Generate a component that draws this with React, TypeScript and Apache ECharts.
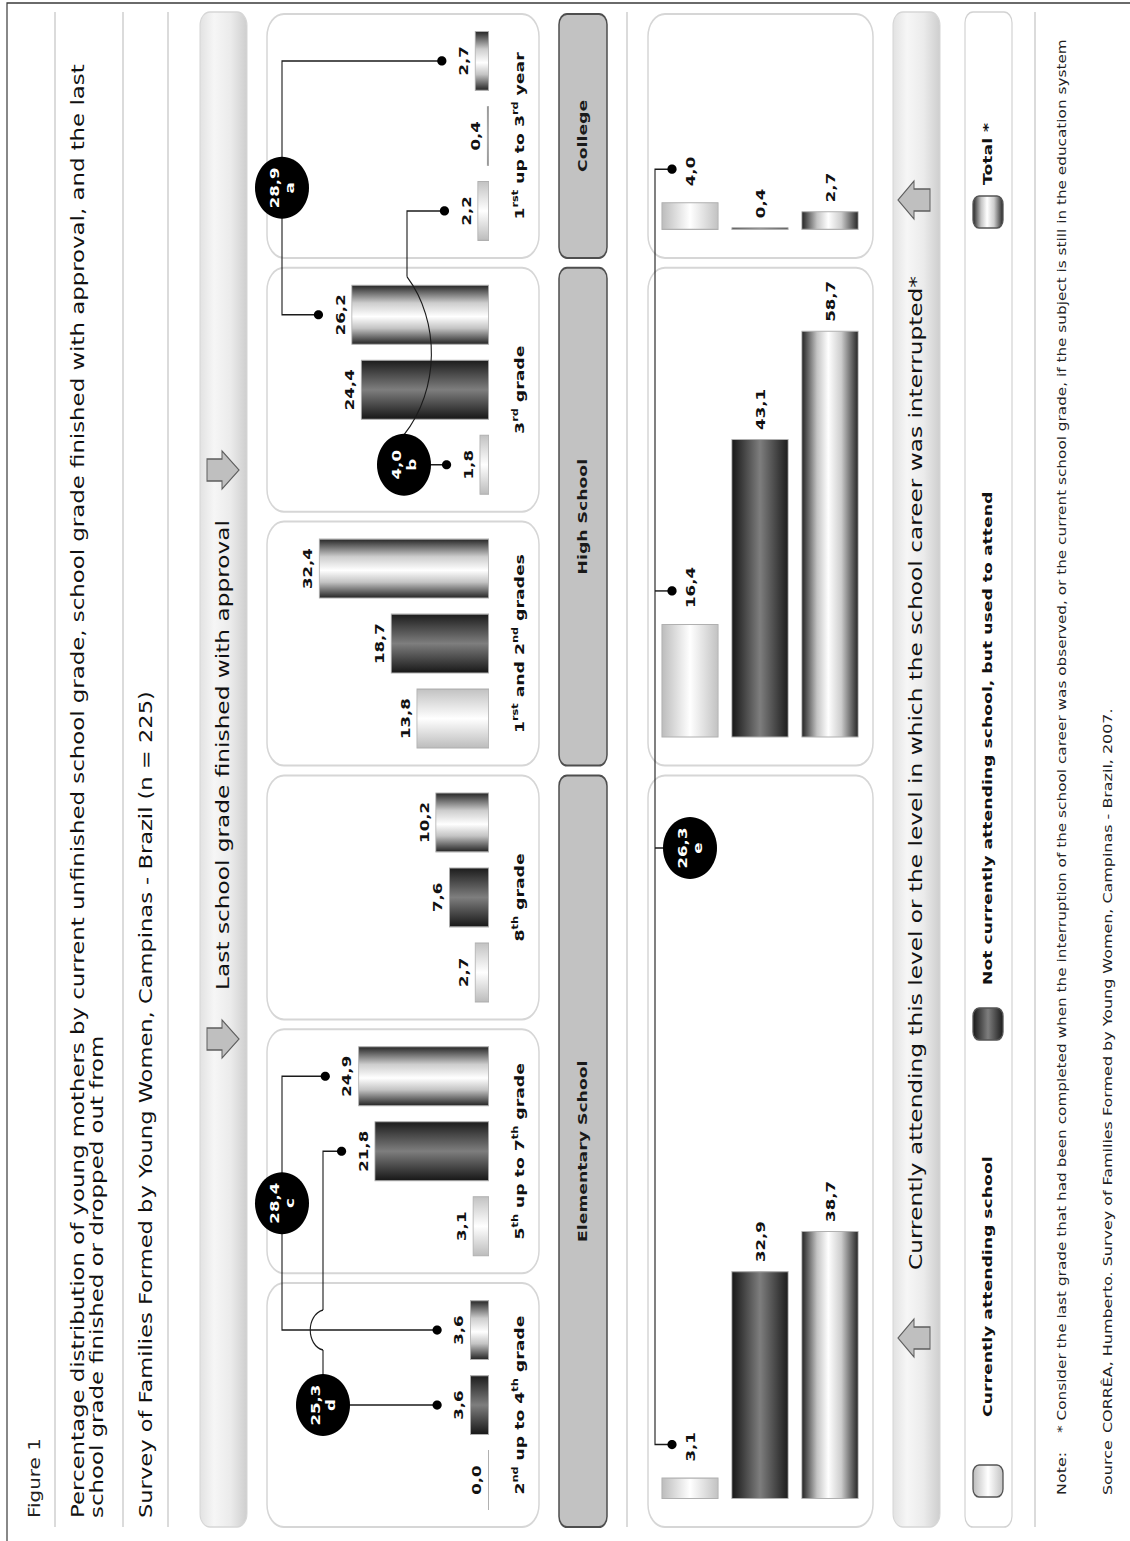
import React, { useEffect, useRef } from "react";
import * as echarts from "echarts";

// The figure is laid out in landscape and turned a quarter turn onto the portrait page.
const PAGE_W = 1130;
const PAGE_H = 1541;
const DESIGN_W = 1160; // landscape width before the horizontal stretch
const SX = PAGE_H / DESIGN_W; // horizontal stretch of the landscape layout
const X = (u: number) => u / SX; // landscape page units -> chart pixels (x only)
const FONT = "'DejaVu Sans', Verdana, sans-serif";

// ---- data -----------------------------------------------------------------
const gradeCategories = [
  "2nd up to 4th grade",
  "5th up to 7th grade",
  "8th grade",
  "1rst and 2nd grades",
  "3rd grade",
  "1rst up to 3rd year",
];
const attendingByGrade = [0.0, 3.1, 2.7, 13.8, 1.8, 2.2];
const notAttendingByGrade = [3.6, 21.8, 7.6, 18.7, 24.4, 0.4];
const totalByGrade = [3.6, 24.9, 10.2, 32.4, 26.2, 2.7];

const levelCategories = ["Elementary School", "High School", "College"];
const attendingByLevel = [3.1, 16.4, 4.0];
const notAttendingByLevel = [32.9, 43.1, 0.4];
const totalByLevel = [38.7, 58.7, 2.7];

const rowNames = [
  "Currently attending school",
  "Not currently attending school, but used to attend",
  "Total *",
];

const sumKeys = ["a", "b", "c", "d", "e"];
const sumValues = [28.9, 4.0, 28.4, 25.3, 26.3];

const levelSpans = [
  [0, 2],
  [3, 4],
  [5, 5],
];

const fmt = (v: number) => v.toFixed(1).replace(".", ",");

// ---- styling ---------------------------------------------------------------
const BAR_STOPS: [number, string][][] = [
  [
    [0, "#bcbcbc"],
    [0.5, "#ffffff"],
    [1, "#c2c2c2"],
  ],
  [
    [0, "#171717"],
    [0.5, "#7e7e7e"],
    [1, "#1c1c1c"],
  ],
  [
    [0, "#242424"],
    [0.27, "#c4c4c4"],
    [0.47, "#ffffff"],
    [0.7, "#cdcdcd"],
    [1, "#262626"],
  ],
];
const grad = (stops: [number, string][], vertical: boolean) =>
  new echarts.graphic.LinearGradient(
    0,
    0,
    vertical ? 0 : 1,
    vertical ? 1 : 0,
    stops.map(([offset, color]) => ({ offset, color }))
  );

// ---- layout (landscape page units) ------------------------------------------
const GRID_LEFT = 9;
const GRID_WIDTH = 1523;
const SLOT = GRID_WIDTH / 6;
const panelCenter = (i: number) => GRID_LEFT + SLOT * (i + 0.5);
const PANEL_HALF = 122;
const UP_TOP = 279;
const UP_BASE = 489;
const UP_MAX = 40;
const BAR_W = 60;
const BAR_STEP = 75;
const LOW_TOP = 655;
const LOW_ROW = 70;
const LOW_UNIT = 6.93;
const LOW_MAX = [60, 70, 30];
const levelLeft = (g: number) => panelCenter(levelSpans[g][0]) - PANEL_HALF;
const levelRight = (g: number) => panelCenter(levelSpans[g][1]) + PANEL_HALF;

const valueLabel = {
  show: true,
  formatter: (p: any) => fmt(p.value),
  fontFamily: FONT,
  fontWeight: "bold",
  fontSize: 12.5,
  color: "#111",
};

const supFormatter = (v: string) => v.replace(/(\d)(rst|nd|rd|th|st)/g, "$1{s|$2}");

function baseOption(): any {
  const upperSeries = [attendingByGrade, notAttendingByGrade, totalByGrade].map((vals, k) => ({
    name: rowNames[k],
    type: "bar",
    xAxisIndex: 0,
    yAxisIndex: 0,
    data: vals,
    barWidth: X(BAR_W),
    barGap: "25%",
    barMinHeight: 1,
    itemStyle: { color: grad(BAR_STOPS[k], false), borderColor: "#b0b0b0", borderWidth: 0.8 },
    label: { ...valueLabel, position: "top", distance: 5 },
    z: 3,
  }));

  const lowerSeries = levelCategories.map((level, g) => ({
    name: level,
    type: "bar",
    xAxisIndex: g + 1,
    yAxisIndex: g + 1,
    barWidth: 57,
    data: [attendingByLevel[g], notAttendingByLevel[g], totalByLevel[g]].map((value, r) => ({
      value,
      itemStyle: { color: grad(BAR_STOPS[r], true) },
      label: { distance: r === 0 ? X(16) : X(9) },
    })),
    itemStyle: { borderColor: "#b0b0b0", borderWidth: 0.8 },
    label: { ...valueLabel, position: "right" },
    z: 3,
  }));

  return {
    animation: false,
    backgroundColor: "#ffffff",
    grid: [
      {
        left: X(GRID_LEFT),
        top: UP_TOP,
        width: X(GRID_WIDTH),
        height: UP_BASE - UP_TOP,
        outerBoundsMode: "none",
      },
      ...levelCategories.map((_, g) => ({
        left: X(levelLeft(g) + 28),
        top: LOW_TOP,
        width: X(LOW_MAX[g] * LOW_UNIT),
        height: LOW_ROW * 3,
        outerBoundsMode: "none",
      })),
    ],
    xAxis: [
      {
        type: "category",
        gridIndex: 0,
        data: gradeCategories,
        axisLine: { show: false },
        axisTick: { show: false },
        splitLine: { show: false },
        axisLabel: {
          interval: 0,
          margin: 22,
          fontFamily: FONT,
          fontWeight: "bold",
          fontSize: 13,
          lineHeight: 18,
          color: "#111",
          formatter: supFormatter,
          rich: {
            s: {
              fontFamily: FONT,
              fontWeight: "bold",
              fontSize: 8.5,
              lineHeight: 10,
              verticalAlign: "top",
              color: "#111",
            },
          },
        },
      },
      ...levelCategories.map((_, g) => ({
        type: "value",
        gridIndex: g + 1,
        min: 0,
        max: LOW_MAX[g],
        show: false,
      })),
    ],
    yAxis: [
      { type: "value", gridIndex: 0, min: 0, max: UP_MAX, show: false },
      ...levelCategories.map((_, g) => ({
        type: "category",
        gridIndex: g + 1,
        data: rowNames,
        inverse: true,
        show: false,
      })),
    ],
    series: [...upperSeries, ...lowerSeries],
  };
}

// ---- graphic helpers (x in landscape units unless noted) -------------------------
const text = (u: number, y: number, t: string, size: number, extra: any = {}) => ({
  type: "text",
  x: X(u),
  y,
  z: 50,
  style: {
    text: t,
    fontFamily: FONT,
    fontSize: size,
    fill: "#111",
    align: "left",
    verticalAlign: "middle",
    ...extra,
  },
});
const box = (u1: number, y1: number, u2: number, y2: number, r: number, style: any, z = 0) => ({
  type: "rect",
  z,
  shape: { x: X(u1), y: y1, width: X(u2 - u1), height: y2 - y1, r },
  style,
});
const hline = (u1: number, u2: number, y: number, stroke = "#cfcfcf", w = 1.5) => ({
  type: "line",
  z: 1,
  shape: { x1: X(u1), y1: y, x2: X(u2), y2: y },
  style: { stroke, lineWidth: w },
});
// chart-pixel helpers
const wire = (pts: number[][]) => ({
  type: "polyline",
  z: 100,
  shape: { points: pts },
  style: { stroke: "#1b1b1b", lineWidth: 1.1, fill: null },
});
const curve = (x1: number, y1: number, c1x: number, c1y: number, c2x: number, c2y: number, x2: number, y2: number) => ({
  type: "bezierCurve",
  z: 100,
  shape: { x1, y1, cpx1: c1x, cpy1: c1y, cpx2: c2x, cpy2: c2y, x2, y2 },
  style: { stroke: "#1b1b1b", lineWidth: 1.1, fill: null },
});
const dot = (p: number[]) => ({
  type: "ellipse",
  z: 102,
  shape: { cx: p[0], cy: p[1], rx: X(4.6), ry: 4.6 },
  style: { fill: "#000" },
});
const badge = (cx: number, cy: number, j: number) => [
  { type: "ellipse", z: 101, shape: { cx, cy, rx: X(31), ry: 27 }, style: { fill: "#000" } },
  {
    type: "text",
    z: 103,
    x: cx,
    y: cy,
    style: {
      text: `${fmt(sumValues[j])}\n${sumKeys[j]}`,
      fontFamily: FONT,
      fontWeight: "bold",
      fontSize: 12.5,
      lineHeight: 15,
      fill: "#fff",
      align: "center",
      verticalAlign: "middle",
    },
  },
];
const arrowDown = (u: number, top: number) => ({
  type: "polygon",
  z: 5,
  shape: {
    points: [
      [X(u - 11), top],
      [X(u + 11), top],
      [X(u + 11), top + 15],
      [X(u + 19), top + 15],
      [X(u), top + 32],
      [X(u - 19), top + 15],
      [X(u - 11), top + 15],
    ],
  },
  style: { fill: "#bfbfbf", stroke: "#5e5e5e", lineWidth: 1 },
});
const arrowUp = (u: number, tip: number) => ({
  type: "polygon",
  z: 5,
  shape: {
    points: [
      [X(u), tip],
      [X(u + 19), tip + 16],
      [X(u + 11), tip + 16],
      [X(u + 11), tip + 32],
      [X(u - 11), tip + 32],
      [X(u - 11), tip + 16],
      [X(u - 19), tip + 16],
    ],
  },
  style: { fill: "#bfbfbf", stroke: "#5e5e5e", lineWidth: 1 },
});

const bandFill = () =>
  new echarts.graphic.LinearGradient(0, 0, 0, 1, [
    { offset: 0, color: "#e2e2e2" },
    { offset: 0.3, color: "#f6f6f6" },
    { offset: 0.65, color: "#ebebeb" },
    { offset: 1, color: "#cecece" },
  ]);

function buildGraphics(chart: any): any[] {
  const els: any[] = [];
  const px = (finder: any, v: any) => chart.convertToPixel(finder, v) as number;
  const upperVals = [attendingByGrade, notAttendingByGrade, totalByGrade];
  const DOT_GAP = 33;
  const dotAt = (k: number, i: number) => [
    px({ xAxisIndex: 0 }, i) + (k - 1) * X(BAR_STEP),
    px({ yAxisIndex: 0 }, upperVals[k][i]) - DOT_GAP,
  ];

  // frame and separators
  els.push(box(-3, 7, 1538, 1140, 0, { fill: null, stroke: "#3a3a3a", lineWidth: 1.2 }, 0));
  [55, 123, 168, 627, 1035].forEach((y) => els.push(hline(14, 1529, y)));

  // headings
  els.push(text(23, 35, "Figure 1", 15, { fill: "#222" }));
  els.push(
    text(
      23,
      78,
      "Percentage distribution of young mothers by current unfinished school grade, school grade finished with approval, and the last",
      17.2
    )
  );
  els.push(text(23, 97, "school grade finished or dropped out from", 17.2));
  els.push(text(23, 146, "Survey of Families Formed by Young Women, Campinas - Brazil (n = 225)", 17));

  // top band
  els.push(box(14, 200, 1529, 247, 10, { fill: bandFill(), stroke: "#d6d6d6", lineWidth: 1 }, 1));
  els.push(text(786, 223.5, "Last school grade finished with approval", 17.5, { align: "center" }));
  els.push(arrowDown(502, 207), arrowDown(1071, 207));

  // grade panels
  gradeCategories.forEach((_, i) => {
    const c = panelCenter(i);
    els.push(
      box(c - PANEL_HALF, 267, c + PANEL_HALF, 539, 17, { fill: "#fff", stroke: "#d6d6d6", lineWidth: 1.5 }, 0)
    );
  });

  // school level boxes and lower panels
  levelCategories.forEach((name, g) => {
    const l = levelLeft(g);
    const r = levelRight(g);
    els.push(box(l, 559, r, 607, 8, { fill: "#c2c2c2", stroke: "#4e4e4e", lineWidth: 1.5 }, 1));
    els.push(text((l + r) / 2, 583, name, 13, { align: "center", fontWeight: "bold", fill: "#1a1a1a" }));
    els.push(box(l, 648, r, 873, 17, { fill: "#fff", stroke: "#d6d6d6", lineWidth: 1.5 }, 0));
  });

  // bottom band
  els.push(box(14, 893, 1529, 940, 10, { fill: bandFill(), stroke: "#d6d6d6", lineWidth: 1 }, 1));
  els.push(
    text(
      768,
      916.5,
      "Currently attending this level or the level in which the school career was interrupted*",
      17.5,
      { align: "center" }
    )
  );
  els.push(arrowUp(203, 898), arrowUp(1341, 898));

  // legend
  els.push(box(14, 965, 1529, 1012, 8, { fill: "#fff", stroke: "#d2d2d2", lineWidth: 1.2 }, 1));
  const swatchLeft = [44, 501, 1313];
  const legendTextLeft = [124, 556, 1356];
  rowNames.forEach((name, r) => {
    els.push(
      box(swatchLeft[r], 973, swatchLeft[r] + 32, 1003, 6, {
        fill: grad(BAR_STOPS[r], true),
        stroke: "#555",
        lineWidth: 1.3,
      }, 2)
    );
    els.push(text(legendTextLeft[r], 988, name, 13, { fontWeight: "bold" }));
  });

  // notes
  els.push(text(46, 1062, "Note:", 12, { fill: "#222" }));
  els.push(
    text(
      108,
      1062,
      "* Consider the last grade that had been completed when the interruption of the school career was observed, or the current school grade, if the subject is still in the education system",
      11.5,
      { fill: "#222" }
    )
  );
  els.push(text(46, 1108, "Source", 12, { fill: "#222" }));
  els.push(
    text(108, 1108, "CORRÊA, Humberto. Survey of Families Formed by Young Women, Campinas - Brazil, 2007.", 12, {
      fill: "#222",
    })
  );

  // ---- connectors between bars and their sums ----
  // d: not attending, 2nd-4th + 5th-7th
  const d1 = dotAt(1, 0);
  const d2 = dotAt(1, 1);
  const dY = 323;
  const hopX = dotAt(2, 0)[0];
  const hop = X(20);
  els.push(wire([[d1[0], d1[1]], [d1[0], dY], [hopX - hop, dY]]));
  els.push(curve(hopX - hop, dY, hopX - hop * 0.75, dY - 17, hopX + hop * 0.75, dY - 17, hopX + hop, dY));
  els.push(wire([[hopX + hop, dY], [d2[0], dY], [d2[0], d2[1]]]));
  els.push(...badge(d1[0], dY, 3), dot(d1), dot(d2));

  // c: total, 2nd-4th + 5th-7th
  const c1 = dotAt(2, 0);
  const c2 = dotAt(2, 1);
  const routeY = 282;
  els.push(wire([[c1[0], c1[1]], [c1[0], routeY], [c2[0], routeY], [c2[0], c2[1]]]));
  els.push(...badge((c1[0] + c2[0]) / 2, routeY, 2), dot(c1), dot(c2));

  // a: total, 3rd grade + college
  const a1 = dotAt(2, 4);
  const a2 = dotAt(2, 5);
  els.push(wire([[a1[0], a1[1]], [a1[0], routeY], [a2[0], routeY], [a2[0], a2[1]]]));
  els.push(...badge((a1[0] + a2[0]) / 2, routeY, 0), dot(a1), dot(a2));

  // b: attending, 3rd grade + college
  const b1 = dotAt(0, 4);
  const b2 = dotAt(0, 5);
  const bY = 404;
  const xs = b1[0] + X(30);
  const xe = X(panelCenter(4) + 113);
  els.push(wire([[b1[0], b1[1]], [b1[0], bY]]));
  els.push(curve(xs, bY, xs + (xe - xs) * 0.29, 440, xs + (xe - xs) * 0.72, 440, xe, 407));
  els.push(wire([[xe, 407], [b2[0], 407], [b2[0], b2[1]]]));
  els.push(...badge(b1[0], bY, 1), dot(b1), dot(b2));

  // e: attending, across the three levels
  const lowDot = (g: number) => [px({ xAxisIndex: g + 1 }, attendingByLevel[g]) + X(33), 672];
  const e0 = lowDot(0);
  const e1 = lowDot(1);
  const e2 = lowDot(2);
  const eY = 655;
  const eX = X(693);
  els.push(wire([[e0[0], e0[1]], [e0[0], eY], [e2[0], eY], [e2[0], e2[1]]]));
  els.push(wire([[e1[0], eY], [e1[0], e1[1]]]));
  els.push(wire([[eX, eY], [eX, 690]]));
  els.push(...badge(eX, 690, 4), dot(e0), dot(e1), dot(e2));

  return els;
}

export default function App() {
  const ref = useRef<HTMLDivElement>(null);
  useEffect(() => {
    const el = ref.current;
    if (!el) return;
    const chart = echarts.init(el, null, { renderer: "svg" });
    chart.setOption(baseOption());
    chart.setOption({ graphic: { elements: buildGraphics(chart) } });
    return () => chart.dispose();
  }, []);

  return (
    <div
      style={{
        position: "fixed",
        left: 0,
        top: 0,
        width: PAGE_W,
        height: PAGE_H,
        overflow: "hidden",
        background: "#fff",
      }}
    >
      <div
        style={{
          position: "absolute",
          left: 0,
          top: 0,
          width: DESIGN_W,
          height: PAGE_W,
          transformOrigin: "0 0",
          transform: `translate(0px, ${PAGE_H}px) rotate(-90deg) scale(${SX}, 1)`,
          background: "#fff",
        }}
      >
        <div ref={ref} style={{ width: DESIGN_W, height: PAGE_W }} />
      </div>
    </div>
  );
}
